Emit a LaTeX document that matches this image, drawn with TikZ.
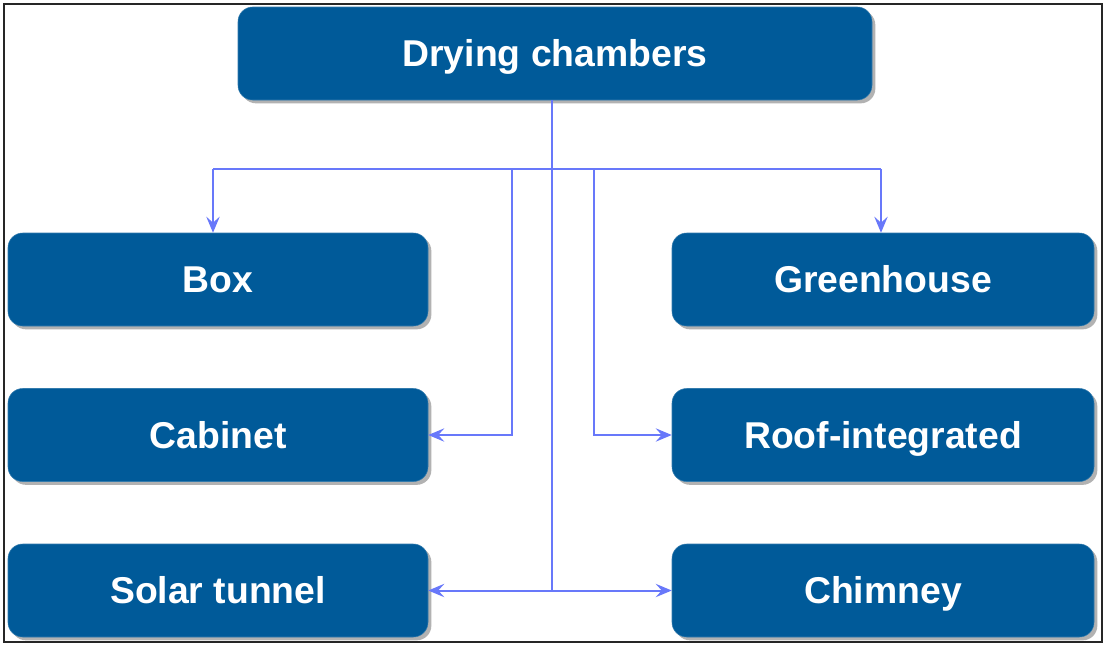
\documentclass[tikz,border=0pt]{standalone}
\usepackage{fontspec}
\setmainfont{Liberation Sans}
\usetikzlibrary{shadows,arrows.meta}
\definecolor{boxblue}{RGB}{0,90,153}
\definecolor{linkblue}{RGB}{104,120,250}
\tikzset{
  chamber/.style={rounded corners=11pt, fill=boxblue, draw=boxblue!80!white, line width=0.4pt,
    text=white, font=\bfseries\fontsize{28}{32}\selectfont,
    text height=20pt, text depth=0pt,
    minimum height=69.75pt, inner sep=0pt,
    drop shadow={shadow xshift=2.5pt, shadow yshift=-2.5pt, fill=black!30, opacity=1}},
  link/.style={draw=linkblue, line width=1.5pt},
  tip/.style={-{Stealth[length=12pt,width=10pt,inset=4.5pt]}},
  tips/.style={{Stealth[length=12pt,width=10pt,inset=4.5pt]}-{Stealth[length=12pt,width=10pt,inset=4.5pt]}}
}
\begin{document}
\begin{tikzpicture}[x=0.75pt,y=-0.75pt]
  \useasboundingbox (0,0) rectangle (1106,646);
  \fill[white] (0,0) rectangle (1106,646);
  \draw[black!85, line width=1.8pt] (4,4) rectangle (1102,642);

  % boxes
  \node[chamber, minimum width=475.5pt] (top) at (555,53.5) {Drying chambers};
  \node[chamber, minimum width=315pt] (box) at (218,279.5) {Box};
  \node[chamber, minimum width=315pt] (cab) at (218,435) {Cabinet};
  \node[chamber, minimum width=315pt] (tun) at (218,590.5) {Solar tunnel};
  \node[chamber, minimum width=316.5pt] (green) at (883,279.5) {Greenhouse};
  \node[chamber, minimum width=316.5pt] (roof) at (883,435) {Roof-integrated};
  \node[chamber, minimum width=316.5pt] (chim) at (883,590.5) {Chimney};

  % distribution bus
  \coordinate (hub) at (552,169);
  \coordinate (cl) at (512,169);
  \coordinate (rl) at (594,169);
  \coordinate (bl) at (213,169);
  \coordinate (gl) at (881,169);

  \draw[link] (top.south -| hub) -- (hub |- tun.east);
  \draw[link] (bl) -- (gl);
  \draw[link,tip] (bl) -- (bl |- box.north);
  \draw[link,tip] (gl) -- (gl |- green.north);
  \draw[link,tip] (cl) |- (cab.east);
  \draw[link,tip] (rl) |- (roof.west);
  \draw[link,tips] (tun.east) -- (chim.west);
\end{tikzpicture}
\end{document}
